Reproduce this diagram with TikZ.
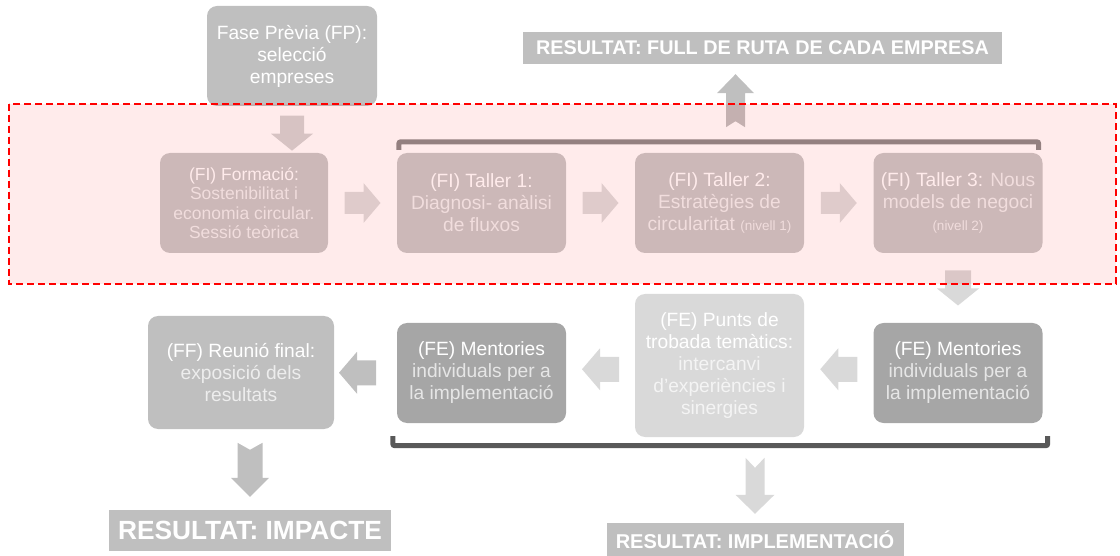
\documentclass[tikz,border=0pt]{standalone}
\usepackage{fontspec}
\setmainfont{Liberation Sans}
\usetikzlibrary{calc}
\definecolor{g89}{HTML}{595959}
\definecolor{g139}{HTML}{8B8B8B}
\definecolor{g166}{HTML}{A6A6A6}
\definecolor{g191}{HTML}{BFBFBF}
\definecolor{g200}{HTML}{C8C8C8}
\definecolor{g212}{HTML}{D4D4D4}
\definecolor{g217}{HTML}{D9D9D9}
\definecolor{g221}{HTML}{DDDDDD}
\newcommand{\lite}[1]{\textcolor{lite}{#1}}
\newcommand{\blockarr}[8][0]{\fill[#2, shift={(#3)}, rotate=#4] (-#5/2,-#6) -- (#5/2-#8,-#6) -- (#5/2-#8,-#7) -- (#5/2,0) -- (#5/2-#8,#7) -- (#5/2-#8,#6) -- (-#5/2,#6) -- (-#5/2+#1,0) -- cycle;}
\tikzset{
  phase/.style={rounded corners=10pt, fill=#1, text=white, align=center, inner sep=0pt,
    execute at begin node={\colorlet{lite}{white!72!#1}}, font=\fontsize{19.2}{22}\selectfont},
  result/.style={fill=g191, text=white, inner sep=0pt},
  brk/.style={line width=5pt, rounded corners=2pt}
}

\begin{document}
\begin{tikzpicture}[x=1pt,y=-1pt]
			%%%%% START %%%%%
			\def\bw{169}
			\def\bh{100}
			\useasboundingbox (0,0) rectangle (1120,556);

			\node[phase=g191, minimum width=170, minimum height=\bh] (fp) at (292,56) {Fase Prèvia (FP):\\selecció\\empreses};
			\node[result, minimum width=479, minimum height=32, font=\bfseries\fontsize{19.8}{22}\selectfont] (full) at (762.5,48) {RESULTAT: FULL DE RUTA DE CADA EMPRESA};

			\node[phase=g200, minimum width=168, minimum height=\bh, font=\fontsize{17.5}{19.3}\selectfont] (fi0) at (244,203) {(FI) Formació:\\\lite{Sostenibilitat i}\\\lite{economia circular.}\\\lite{Sessió teòrica}};
			\node[phase=g200, minimum width=\bw, minimum height=\bh] (t1) at (481.5,203) {(FI) Taller 1:\\\lite{Diagnosi- anàlisi}\\\lite{de fluxos}};
			\node[phase=g200, minimum width=\bw, minimum height=\bh] (t2) at (719.5,203) {(FI) Taller 2:\\\lite{Estratègies de}\\\lite{circularitat {\fontsize{13.5}{15}\selectfont(nivell 1)}}};
			\node[phase=g200, minimum width=\bw, minimum height=\bh] (t3) at (958,203) {(FI) Taller 3: \lite{Nous}\\\lite{models de negoci}\\\lite{\fontsize{13.5}{15}\selectfont(nivell 2)}};

			\blockarr{g212}{$(fp.south)+(0,27)$}{-90}{35}{12}{21}{17}
			\blockarr{g221}{$(fi0.east)!0.5!(t1.west)$}{0}{36}{11}{20}{17}
			\blockarr{g221}{$(t1.east)!0.5!(t2.west)$}{0}{36}{11}{20}{17}
			\blockarr{g221}{$(t2.east)!0.5!(t3.west)$}{0}{36}{11}{20}{17}
			\draw[brk, draw=g139] ($(t1.north west)+(2,-3)$) |- ($(t3.north east)+(-4,-11)$) -- ++(0,8);
			\blockarr[6]{g191}{$(full.south)+(-27,36.5)$}{90}{53}{9.5}{18.5}{19}

			\node[phase=g166, minimum width=\bw, minimum height=\bh] (fer) at (958,373) {(FE) Mentories\\\lite{individuals per a}\\\lite{la implementació}};
			\blockarr{g217}{$(t3.south)!0.5!(fer.north)$}{-90}{35}{13}{21}{17}

			% fase intensiva
			\draw[red, line width=2.5pt, dash pattern=on 7pt off 4pt, fill=red, fill opacity=0.08] (9,104) rectangle (1116,284);

			\node[phase=g217, minimum width=\bw, minimum height=143] (punts) at (719.5,365.5) {(FE) Punts de\\trobada temàtics:\\\lite{intercanvi}\\\lite{d’experiències i}\\\lite{sinergies}};
			\node[phase=g166, minimum width=\bw, minimum height=\bh] (fel) at (481.5,373) {(FE) Mentories\\\lite{individuals per a}\\\lite{la implementació}};
			\node[phase=g191, minimum width=186, minimum height=113] (ff) at (241,372.5) {(FF) Reunió final:\\\lite{exposició dels}\\\lite{resultats}};

			\blockarr{g217}{$(fer.west)!0.5!(punts.east)$}{180}{37}{12.5}{21}{18}
			\blockarr{g217}{$(punts.west)!0.5!(fel.east)$}{180}{37}{12.5}{21}{18}
			\blockarr{g191}{$(fel.west)!0.5!(ff.east)+(-8,0)$}{180}{37}{12.5}{21}{18}
			\draw[brk, draw=g89] ($(fel.south west)+(-4,13)$) |- ($(fer.south east)+(5,22.5)$) -- ++(0,-9.5);

			\node[result, minimum width=282, minimum height=41, font=\bfseries\fontsize{26.3}{28}\selectfont] (imp) at (250,530.5) {RESULTAT: IMPACTE};
			\node[result, minimum width=297, minimum height=33, font=\bfseries\fontsize{20}{22}\selectfont] (impl) at (755,539.5) {RESULTAT: IMPLEMENTACIÓ};
			\blockarr[7]{g191}{$(imp.north)+(0,-40)$}{-90}{54}{12.5}{19}{19}
			\blockarr[10]{g217}{$(impl.north)+(0,-37)$}{-90}{56}{9.5}{19.5}{19}
			%%%%% END %%%%%
\end{tikzpicture}
\end{document}
